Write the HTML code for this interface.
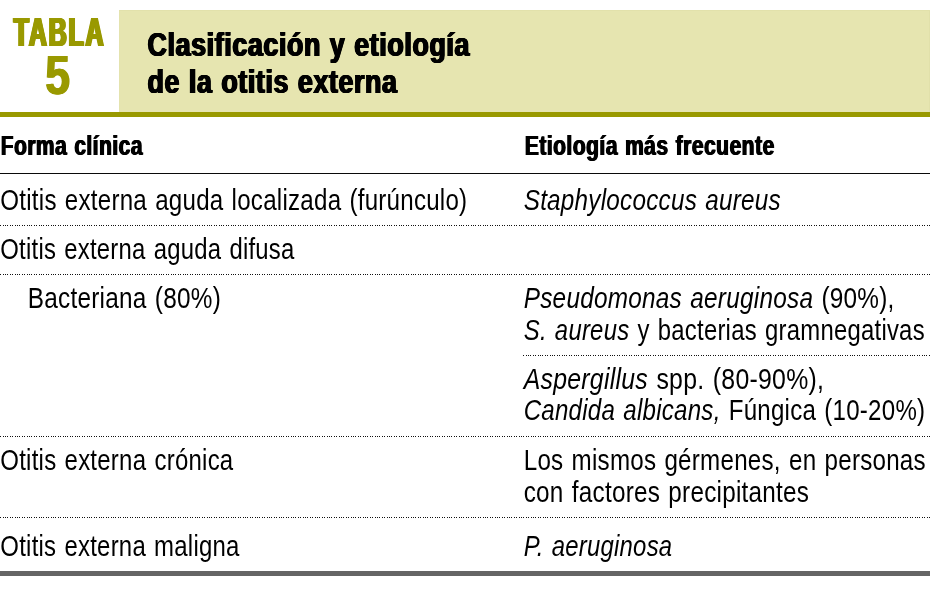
<!DOCTYPE html>
<html lang="es"><head><meta charset="utf-8"><title>Tabla 5. Clasificación y etiología de la otitis externa</title><style>
html,body{margin:0;padding:0;background:#fff;}
body{width:938px;height:590px;position:relative;overflow:hidden;font-family:"Liberation Sans",sans-serif;color:#000;}
h1,p{margin:0;font-weight:inherit;font-size:inherit;}
/* every text line is absolutely placed and horizontally condensed */
.t{position:absolute;white-space:nowrap;transform-origin:0 0;display:block;}
.b{font-size:29.5px;line-height:29.5px;font-weight:400;letter-spacing:0.3px;word-spacing:1.5px;}
.h{font-size:28.5px;line-height:28.5px;font-weight:700;letter-spacing:0.7px;word-spacing:1px;text-shadow:0.85px 0 0 #000,-0.85px 0 0 #000;}
.ti{font-size:34px;line-height:34px;font-weight:700;letter-spacing:0.8px;word-spacing:1px;text-shadow:0.5px 0 0 #000,-0.5px 0 0 #000,1px 0 0 #000,-1px 0 0 #000;}
.lab{font-weight:700;color:#999900;}
.box{position:absolute;left:119px;top:10px;width:811px;height:102px;background:#e6e5b0;box-shadow:inset 0 1px 0 #e2e1ab,inset 1px 0 0 #e4e3ae,inset -1px 0 0 #e1e0aa;}
.olive{position:absolute;left:0;top:112px;width:930px;height:5px;background:#999900;}
.solid{position:absolute;left:0;top:173px;width:930px;height:1px;background:#0a0a0a;}
.dot{position:absolute;left:0;width:930px;height:1px;background:repeating-linear-gradient(90deg,#111 0,#111 1px,transparent 1px,transparent 3px,#111 3px,#111 4px,transparent 4px,transparent 5px,#111 5px,#111 6px,transparent 6px,transparent 7px,#111 7px,#111 8px,transparent 8px,transparent 10px,#111 10px,#111 11px,transparent 11px,transparent 12px);}
.bottom{position:absolute;left:0;top:571px;width:930px;height:5px;background:#656565;}
</style></head><body>
<header>
<div class="box"></div><div class="olive"></div>
<div class="label"><span class="t lab" id="tabla" style="left:13px;top:12px;font-size:41px;line-height:41px;letter-spacing:3.0px;text-shadow:0.67px 0 0 #999900,-0.67px 0 0 #999900,1.33px 0 0 #999900,-1.33px 0 0 #999900,2.00px 0 0 #999900,-2.00px 0 0 #999900;transform:translateX(0.64px) scaleX(0.6081)">TABLA</span> <span class="t lab" id="five" style="left:45px;top:48px;font-size:55px;line-height:55px;text-shadow:0.80px 0 0 #999900,-0.80px 0 0 #999900;transform:translateX(0.25px) scaleX(0.8096)">5</span></div>
<h1><span class="t ti" id="t1" style="left:147px;top:27px;transform:translateX(0.57px) scaleX(0.7877)">Clasificación y etiología</span> <span class="t ti" id="t2" style="left:147px;top:64px;transform:translateX(0.56px) scaleX(0.7872)">de la otitis externa</span></h1>
</header>
<div role="table" aria-label="Clasificación y etiología de la otitis externa">
<div role="row">
 <div role="columnheader"><span class="t h" id="h1" style="left:0px;top:131px;transform:translateX(0.75px) scaleX(0.7337)">Forma clínica</span></div>
 <div role="columnheader"><span class="t h" id="h2" style="left:524px;top:131px;transform:translateX(0.81px) scaleX(0.7358)">Etiología más frecuente</span></div>
</div>
<div class="solid"></div>
<div role="row">
 <div role="cell"><span class="t b" id="r1a" style="left:0px;top:185px;transform:translateX(0.30px) scaleX(0.8173)">Otitis externa aguda localizada (furúnculo)</span></div>
 <div role="cell"><span class="t b" id="r1b" style="left:523px;top:185px;transform:translateX(0.70px) scaleX(0.8224)"><i>Staphylococcus aureus</i></span></div>
</div>
<div class="dot" style="top:225px"></div>
<div role="row">
 <div role="cell"><span class="t b" id="r2a" style="left:0px;top:234px;transform:translateX(0.30px) scaleX(0.8095)">Otitis externa aguda difusa</span></div>
 <div role="cell"></div>
</div>
<div class="dot" style="top:274px"></div>
<div role="row">
 <div role="cell"><span class="t b" id="r3a" style="left:27px;top:283px;transform:translateX(0.70px) scaleX(0.8255)">Bacteriana (80%)</span></div>
 <div role="cell"><span class="t b" id="r3b1" style="left:523px;top:283px;transform:translateX(0.70px) scaleX(0.8250)"><i>Pseudomonas aeruginosa</i> (90%),</span> <span class="t b" id="r3b2" style="left:523px;top:315px;transform:translateX(0.70px) scaleX(0.8099)"><i>S. aureus</i> y bacterias gramnegativas</span></div>
</div>
<div class="dot" style="top:355px;left:523px;width:407px"></div>
<div role="row">
 <div role="cell"></div>
 <div role="cell"><span class="t b" id="r4b1" style="left:523px;top:364px;transform:translateX(0.70px) scaleX(0.8422)"><i>Aspergillus</i> spp. (80-90%),</span> <span class="t b" id="r4b2" style="left:523px;top:395px;transform:translateX(0.70px) scaleX(0.8165)"><i>Candida albicans,</i> Fúngica (10-20%)</span></div>
</div>
<div class="dot" style="top:436px"></div>
<div role="row">
 <div role="cell"><span class="t b" id="r5a" style="left:0px;top:445px;transform:translateX(0.30px) scaleX(0.8133)">Otitis externa crónica</span></div>
 <div role="cell"><span class="t b" id="r5b1" style="left:523px;top:445px;transform:translateX(0.70px) scaleX(0.8189)">Los mismos gérmenes, en personas</span> <span class="t b" id="r5b2" style="left:523px;top:477px;transform:translateX(0.70px) scaleX(0.8229)">con factores precipitantes</span></div>
</div>
<div class="dot" style="top:517px"></div>
<div role="row">
 <div role="cell"><span class="t b" id="r6a" style="left:0px;top:531px;transform:translateX(0.30px) scaleX(0.8117)">Otitis externa maligna</span></div>
 <div role="cell"><span class="t b" id="r6b" style="left:523px;top:531px;transform:translateX(0.70px) scaleX(0.8095)"><i>P. aeruginosa</i></span></div>
</div>
<div class="bottom"></div>
</div>
</body></html>
